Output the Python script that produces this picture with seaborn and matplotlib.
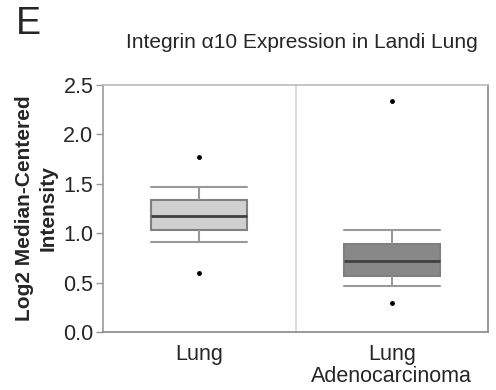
import numpy as np
import pandas as pd
import matplotlib
matplotlib.use("Agg")
import matplotlib.pyplot as plt
import seaborn as sns

categories = ["Lung", "Lung\nAdenocarcinoma"]
# five-number style summaries (outlier, whisker, Q1, mid, median, mid, Q3, whisker, outlier)
lung_values = [0.60, 0.911, 1.032, 1.10, 1.174, 1.25, 1.336, 1.464, 1.768]
adeno_values = [0.297, 0.469, 0.567, 0.65, 0.722, 0.80, 0.890, 1.030, 2.338]
box_colors = ["#d0d0d0", "#888888"]
yticks = [0.0, 0.5, 1.0, 1.5, 2.0, 2.5]

df = pd.DataFrame({
    "group": [categories[0]] * len(lung_values) + [categories[1]] * len(adeno_values),
    "value": lung_values + adeno_values,
})

sns.set_style("white")
plt.rcParams["font.family"] = ["Liberation Sans", "DejaVu Sans"]

fig = plt.figure(figsize=(4.96, 3.90), dpi=100)
ax = fig.add_axes([103 / 496, 1 - 332 / 390, (488 - 103) / 496, (332 - 85) / 390])

sns.boxplot(
    data=df, x="group", y="value", hue="group", palette=box_colors,
    order=categories, hue_order=categories, legend=False,
    width=0.5, whis=0.6, ax=ax,
    linecolor="#808080", linewidth=1.5,
    medianprops=dict(color="#404040", linewidth=2),
    whiskerprops=dict(color="#999999", linewidth=1.5),
    capprops=dict(color="#999999", linewidth=1.5),
    capwidths=0.5,
    flierprops=dict(marker="o", markersize=2.5, markerfacecolor="black",
                    markeredgecolor="black"),
)

ax.set_ylim(0, 2.5)
ax.set_xlim(-0.5, 1.5)
ax.set_yticks(yticks)
ax.set_yticklabels([f"{t:.1f}" for t in yticks], fontsize=15.5)
ax.tick_params(axis="y", left=True, length=5, color="#999999", width=1, pad=2)
ax.tick_params(axis="x", bottom=False, labelsize=15.5, pad=5)
for lbl in ax.get_xticklabels():
    lbl.set_linespacing(1.05)
ax.set_xlabel("")
ax.set_ylabel("Log2 Median-Centered\nIntensity", fontsize=15, fontweight="bold",
              linespacing=1.3, labelpad=4)
ax.axvline(0.5, color="#d4d4d4", linewidth=1.2, zorder=0)

ax.spines["top"].set_color("#bbbbbb")
ax.spines["right"].set_color("#888888")
ax.spines["left"].set_color("#999999")
ax.spines["bottom"].set_color("#888888")
for s in ax.spines.values():
    s.set_linewidth(1.2)

fig.text(302 / 496, 1 - 42 / 390, "Integrin \u03b110 Expression in Landi Lung",
         ha="center", va="center", fontsize=15)
fig.text(16 / 496, 1 - 24 / 390, "E", ha="left", va="center", fontsize=27)

fig.savefig("out.png", dpi=100)
